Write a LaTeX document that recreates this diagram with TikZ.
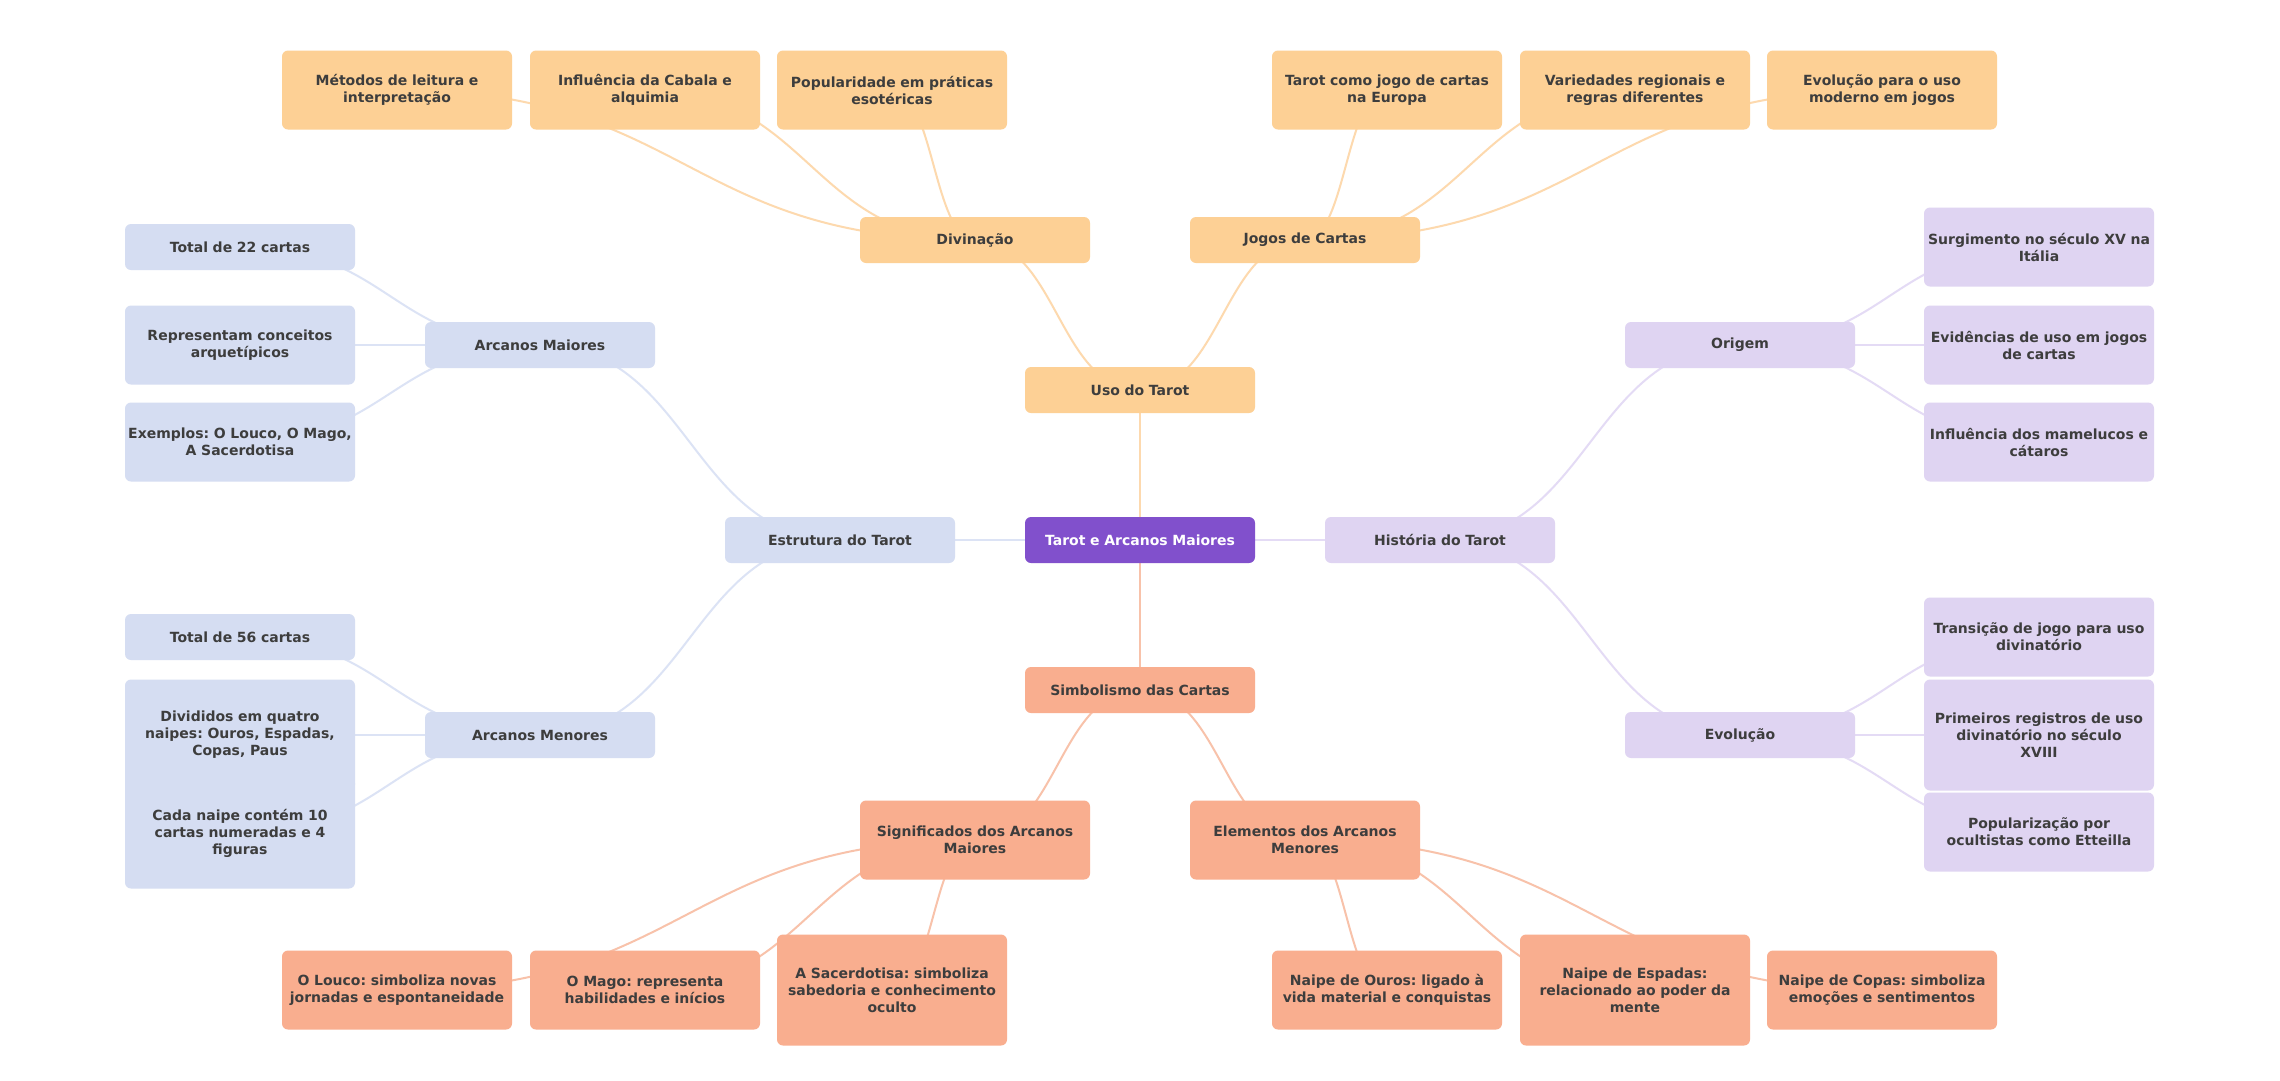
\documentclass[tikz,border=0pt]{standalone}
\usepackage{fontspec}
\setmainfont{DejaVu Sans}
\frenchspacing
\usetikzlibrary{calc}
\pgfdeclarelayer{bg}
\pgfdeclarelayer{paper}
\pgfsetlayers{paper,bg,main}
\definecolor{txt}{HTML}{3D3D3D}
\definecolor{corange}{HTML}{FDD095}
\definecolor{csalmon}{HTML}{F9AE8F}
\definecolor{cblue}{HTML}{D5DDF2}
\definecolor{cpurple}{HTML}{DFD4F2}
\definecolor{ccenter}{HTML}{8150CC}
\definecolor{eorange}{HTML}{FDD9AE}
\definecolor{esalmon}{HTML}{F8C2AA}
\definecolor{eblue}{HTML}{DCE3F5}
\definecolor{epurple}{HTML}{E4DBF5}
\newcommand\mmlink[3]{\draw[#1] let \p1=(#2.center), \p2=(#3.center) in (\p1) .. controls ({(\x1+\x2)/2},\y1) and ({(\x1+\x2)/2},\y2) .. (\p2);}
\tikzset{
  box/.style={rounded corners=6pt, minimum width=230pt, text width=226pt, align=center, inner sep=2pt, text=txt,
    font=\fontsize{14}{17}\selectfont\bfseries},
  h1/.style={minimum height=46pt},
  h2/.style={minimum height=79pt},
  h3/.style={minimum height=111pt},
  ob/.style={box, fill=corange},
  sb/.style={box, fill=csalmon},
  bb/.style={box, fill=cblue},
  pb/.style={box, fill=cpurple},
  cb/.style={box, fill=ccenter, text=white},
  eo/.style={draw=eorange, line width=2pt},
  es/.style={draw=esalmon, line width=2pt},
  eb/.style={draw=eblue, line width=2pt},
  ep/.style={draw=epurple, line width=2pt},
}
\begin{document}
\begin{tikzpicture}[x=1pt,y=-1pt]
\begin{pgfonlayer}{paper}
\fill[white] (0,0) rectangle (2280,1080);
\end{pgfonlayer}
\useasboundingbox (0,0) rectangle (2280,1080);
% central and main branches
\node[cb,h1] (ctr) at (1140,540) {Tarot e Arcanos Maiores};
\node[ob,h1] (uso) at (1140,390) {Uso do Tarot};
\node[sb,h1] (simb) at (1140,690) {Simbolismo das Cartas};
\node[bb,h1] (estr) at (840,540) {Estrutura do Tarot};
\node[pb,h1] (hist) at (1440,540) {História do Tarot};
% uso
\node[ob,h1] (div) at (975,240) {Divinação};
\node[ob,h1] (jog) at (1305,240) {Jogos de Cartas};
\node[ob,h2] (met) at (397,90) {Métodos de leitura e\\interpretação};
\node[ob,h2] (inf) at (645,90) {Influência da Cabala e\\alquimia};
\node[ob,h2] (pop) at (892,90) {Popularidade em práticas\\esotéricas};
\node[ob,h2] (tjog) at (1387,90) {Tarot como jogo de cartas\\na Europa};
\node[ob,h2] (var) at (1635,90) {Variedades regionais e\\regras diferentes};
\node[ob,h2] (evo) at (1882,90) {Evolução para o uso\\moderno em jogos};
% estrutura
\node[bb,h1] (amai) at (540,345) {Arcanos Maiores};
\node[bb,h1] (amen) at (540,735) {Arcanos Menores};
\node[bb,h1] (t22) at (240,247) {Total de 22 cartas};
\node[bb,h2] (rep) at (240,345) {Representam conceitos\\arquetípicos};
\node[bb,h2] (exe) at (240,442) {Exemplos: O Louco, O Mago,\\A Sacerdotisa};
\node[bb,h1] (t56) at (240,637) {Total de 56 cartas};
\node[bb,h3] (divd) at (240,735) {Divididos em quatro\\naipes: Ouros, Espadas,\\Copas, Paus};
\node[bb,h3] (cada) at (240,833) {Cada naipe contém 10\\cartas numeradas e 4\\figuras};
% historia
\node[pb,h1] (orig) at (1740,345) {Origem};
\node[pb,h1] (evol) at (1740,735) {Evolução};
\node[pb,h2] (surg) at (2039,247) {Surgimento no século XV na\\Itália};
\node[pb,h2] (evid) at (2039,345) {Evidências de uso em jogos\\de cartas};
\node[pb,h2] (infm) at (2039,442) {Influência dos mamelucos e\\cátaros};
\node[pb,h2] (trans) at (2039,637) {Transição de jogo para uso\\divinatório};
\node[pb,h3] (prim) at (2039,735) {Primeiros registros de uso\\divinatório no século\\XVIII};
\node[pb,h2] (popu) at (2039,832) {Popularização por\\ocultistas como Etteilla};
% simbolismo
\node[sb,h2] (sig) at (975,840) {Significados dos Arcanos\\Maiores};
\node[sb,h2] (elem) at (1305,840) {Elementos dos Arcanos\\Menores};
\node[sb,h2] (louco) at (397,990) {O Louco: simboliza novas\\jornadas e espontaneidade};
\node[sb,h2] (mago) at (645,990) {O Mago: representa\\habilidades e inícios};
\node[sb,h3] (sac) at (892,990) {A Sacerdotisa: simboliza\\sabedoria e conhecimento\\oculto};
\node[sb,h2] (ouros) at (1387,990) {Naipe de Ouros: ligado à\\vida material e conquistas};
\node[sb,h3] (esp) at (1635,990) {Naipe de Espadas:\\relacionado ao poder da\\mente};
\node[sb,h2] (copas) at (1882,990) {Naipe de Copas: simboliza\\emoções e sentimentos};
\begin{pgfonlayer}{bg}
\mmlink{eo}{ctr}{uso}
\mmlink{es}{ctr}{simb}
\mmlink{eb}{ctr}{estr}
\mmlink{ep}{ctr}{hist}
\mmlink{eo}{uso}{div}
\mmlink{eo}{uso}{jog}
\mmlink{eo}{div}{met}
\mmlink{eo}{div}{inf}
\mmlink{eo}{div}{pop}
\mmlink{eo}{jog}{tjog}
\mmlink{eo}{jog}{var}
\mmlink{eo}{jog}{evo}
\mmlink{eb}{estr}{amai}
\mmlink{eb}{estr}{amen}
\mmlink{eb}{amai}{t22}
\mmlink{eb}{amai}{rep}
\mmlink{eb}{amai}{exe}
\mmlink{eb}{amen}{t56}
\mmlink{eb}{amen}{divd}
\mmlink{eb}{amen}{cada}
\mmlink{ep}{hist}{orig}
\mmlink{ep}{hist}{evol}
\mmlink{ep}{orig}{surg}
\mmlink{ep}{orig}{evid}
\mmlink{ep}{orig}{infm}
\mmlink{ep}{evol}{trans}
\mmlink{ep}{evol}{prim}
\mmlink{ep}{evol}{popu}
\mmlink{es}{simb}{sig}
\mmlink{es}{simb}{elem}
\mmlink{es}{sig}{louco}
\mmlink{es}{sig}{mago}
\mmlink{es}{sig}{sac}
\mmlink{es}{elem}{ouros}
\mmlink{es}{elem}{esp}
\mmlink{es}{elem}{copas}
\end{pgfonlayer}
\end{tikzpicture}
\end{document}
